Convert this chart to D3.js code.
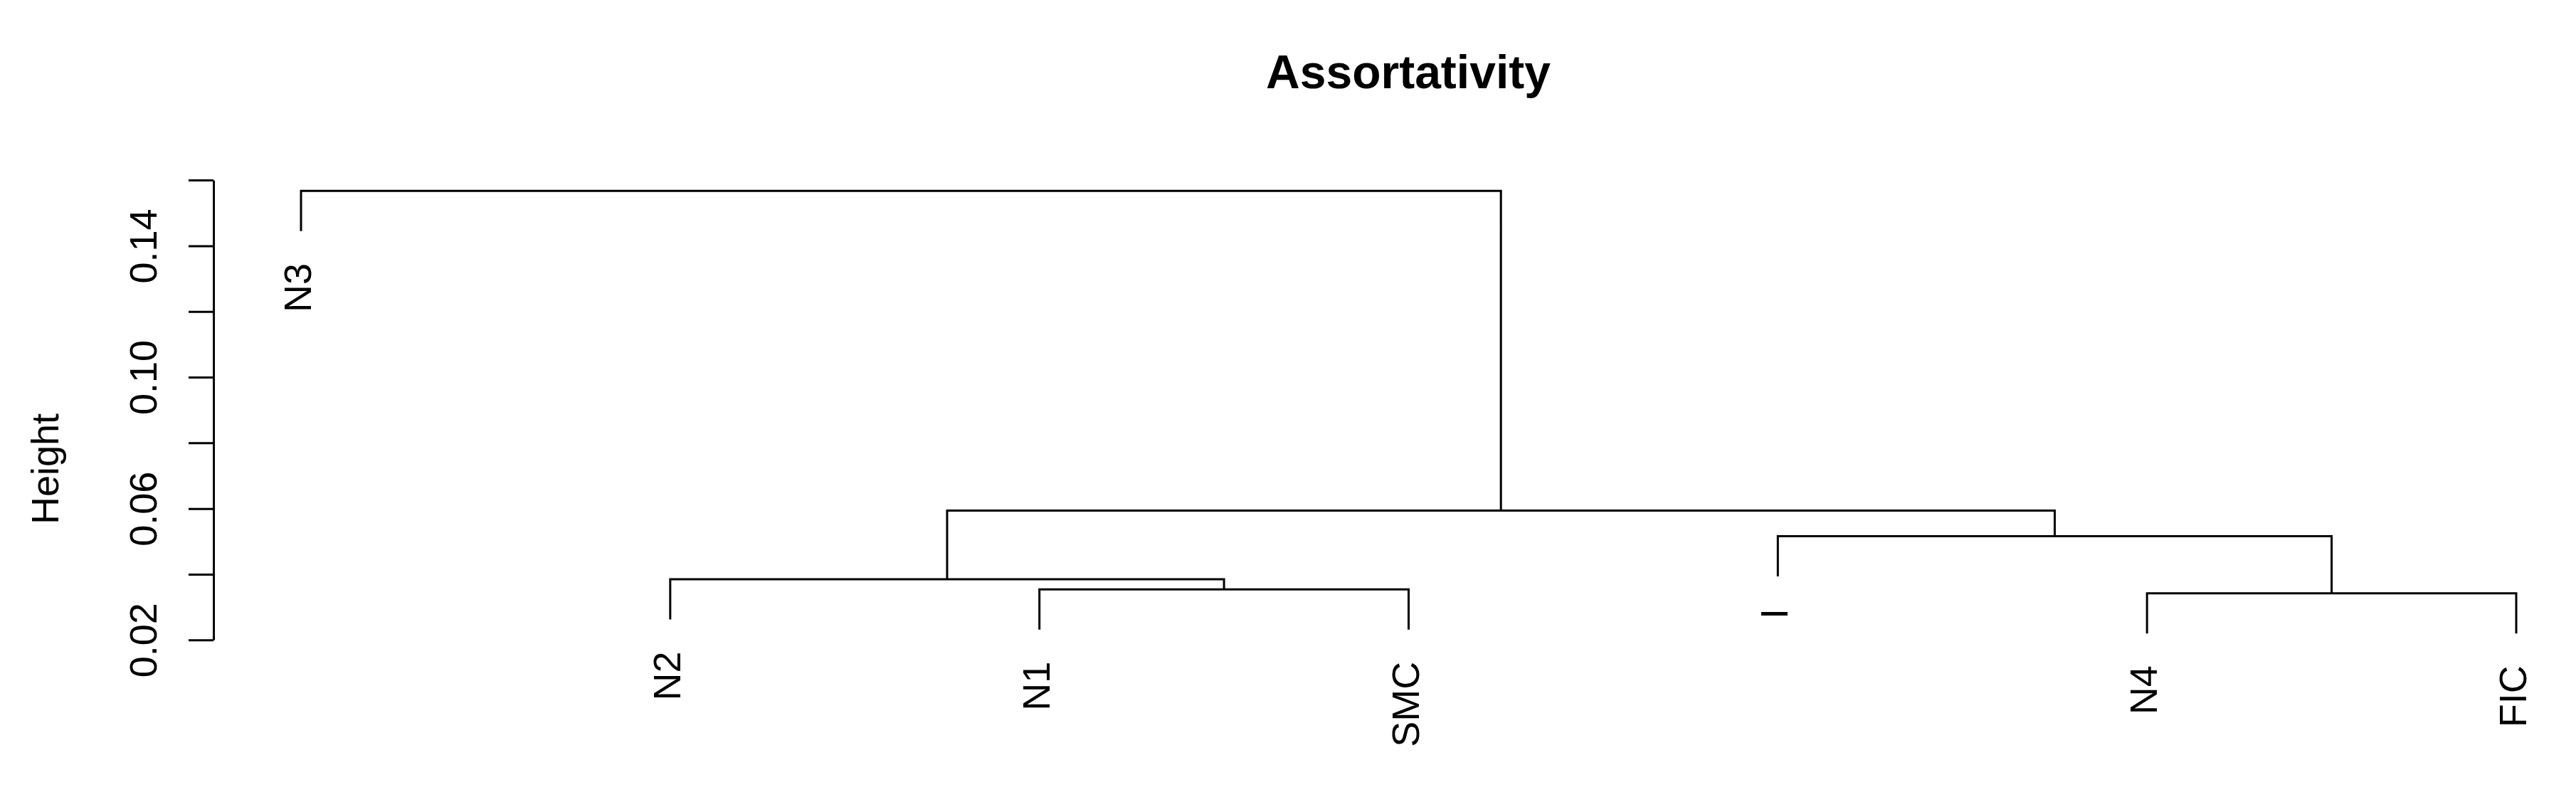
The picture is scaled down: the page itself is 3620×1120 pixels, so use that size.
<!DOCTYPE html>
<html>
<head>
<meta charset="utf-8">
<script src="https://cdn.jsdelivr.net/npm/d3@7"></script>
<style>
  html, body { margin: 0; padding: 0; background: #fff; }
  svg { display: block; }
  text { font-family: "Liberation Sans", Arial, Helvetica, sans-serif; fill: #000; }
</style>
</head>
<body>
<svg id="chart" width="3620" height="1120"></svg>
<script>
// ---- data (leaf order left to right) ----
const leafLabels = ["N3", "N2", "N1", "SMC", "I", "N4", "FIC"];
// merges, R hclust convention: negative = leaf (1-based position), positive = earlier merge (1-based)
const mergeLeft  = [-6, -3, -2, -5, 3, -1];
const mergeRight = [-7, -4,  2,  1, 4,  5];
const mergeHeight = [0.0342, 0.0354, 0.0385, 0.0516, 0.0594, 0.1567];
const tickValues = [0.02, 0.04, 0.06, 0.08, 0.10, 0.12, 0.14, 0.16];
const tickLabels = ["0.02", "", "0.06", "", "0.10", "", "0.14", ""];
const titleText = "Assortativity";
const yLabelText = "Height";

// ---- layout ----
const fontSize = 54;
const lw = 3;
const svg = d3.select("#chart");

const x = d3.scaleLinear().domain([1, leafLabels.length]).range([423, 3536]);
const y = d3.scaleLinear().domain([0.02, 0.16]).range([899.3, 253.1]);

const hang = 0.1 * (d3.max(mergeHeight) - d3.min(mergeHeight));

// compute merge centers
const mergeX = [];
function childX(c) { return c < 0 ? x(-c) : mergeX[c - 1]; }
function childTop(c, parentH) { return c < 0 ? y(parentH - hang) : y(mergeHeight[c - 1]); }
mergeHeight.forEach((h, i) => {
  mergeX[i] = (childX(mergeLeft[i]) + childX(mergeRight[i])) / 2;
});

// leaf bottoms
const leafBottom = [];
mergeHeight.forEach((h, i) => {
  [mergeLeft[i], mergeRight[i]].forEach(c => { if (c < 0) leafBottom[-c - 1] = y(h - hang); });
});

// ---- branches ----
const g = svg.append("g");
g.selectAll("path.branch")
  .data(mergeHeight.map((h, i) => i))
  .join("path")
  .attr("class", "branch")
  .attr("fill", "none")
  .attr("stroke", "#000")
  .attr("stroke-width", lw)
  .attr("stroke-linecap", "butt")
  .attr("stroke-linejoin", "miter")
  .attr("d", i => {
    const h = mergeHeight[i];
    const a = mergeLeft[i], b = mergeRight[i];
    return `M${childX(a)},${childTop(a, h)}V${y(h)}H${childX(b)}V${childTop(b, h)}`;
  });

// ---- leaf labels ----
g.selectAll("text.leaf")
  .data(leafLabels)
  .join("text")
  .attr("class", "leaf")
  .attr("transform", (d, i) => `translate(${x(i + 1)},${leafBottom[i]}) rotate(-90)`)
  .attr("x", -45)
  .attr("dy", 14)
  .attr("text-anchor", "end")
  .style("font-size", fontSize + "px")
  .text(d => d);

// ---- y axis ----
const axis = d3.axisLeft(y)
  .tickValues(tickValues)
  .tickFormat((d, i) => tickLabels[i])
  .tickSize(35)
  .tickSizeOuter(0);
const ag = svg.append("g").attr("transform", "translate(300,0)").call(axis);
ag.select(".domain").attr("stroke", "#000").attr("stroke-width", lw);
ag.selectAll(".tick line").attr("stroke", "#000").attr("stroke-width", lw);
ag.selectAll(".tick text")
  .attr("x", 0)
  .attr("y", -80)
  .attr("dy", null)
  .attr("transform", "rotate(-90)")
  .attr("text-anchor", "middle")
  .style("font-size", fontSize + "px")
  .style("font-family", '"Liberation Sans", Arial, sans-serif')
  .attr("fill", "#000");

// ---- axis title ----
svg.append("text")
  .attr("transform", "translate(82,659) rotate(-90)")
  .attr("text-anchor", "middle")
  .style("font-size", fontSize + "px")
  .text(yLabelText);

// ---- main title ----
svg.append("text")
  .attr("x", 1979)
  .attr("y", 124)
  .attr("text-anchor", "middle")
  .style("font-size", "66px")
  .style("font-weight", "bold")
  .text(titleText);
</script>
</body>
</html>
